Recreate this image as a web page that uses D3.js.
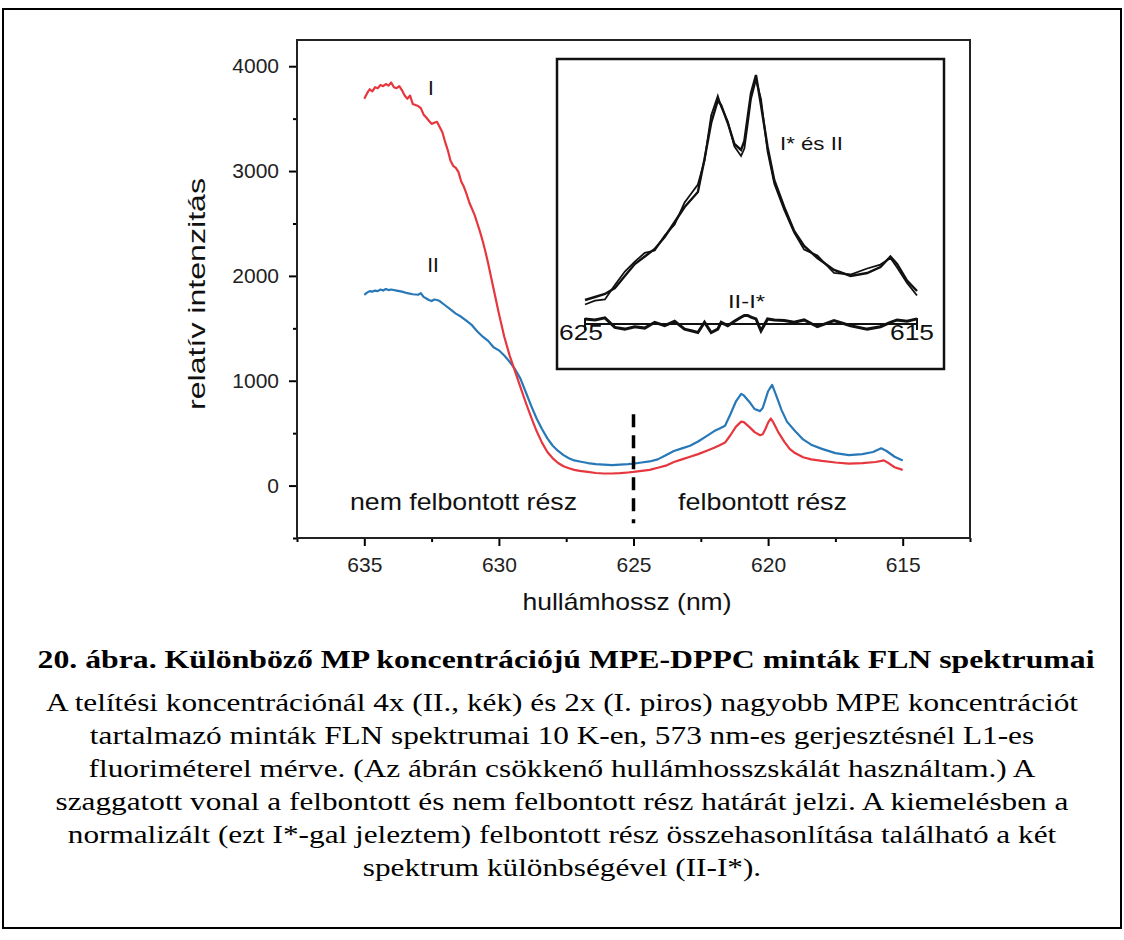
<!DOCTYPE html>
<html><head><meta charset="utf-8">
<script src="https://cdn.jsdelivr.net/npm/d3@7"></script>
<style>body{margin:0;background:#fff}svg{display:block}</style>
</head><body>
<svg id="c" width="1124" height="940"></svg>
<script>
// ---------- data ----------
const wavelengthsI = [635.0,634.9,634.8,634.7,634.6,634.5,634.4,634.3,634.2,634.1,634.0,633.9,633.8,633.7,633.6,633.5,633.4,633.3,633.2,633.0,632.9,632.8,632.7,632.6,632.5,632.4,632.3,632.2,632.1,632.0,631.9,631.8,631.7,631.6,631.5,631.4,631.3,631.2,631.1,631.0,630.9,630.8,630.7,630.6,630.5,630.4,630.3,630.2,630.1,630.0,629.8,629.6,629.4,629.2,629.0,628.8,628.6,628.4,628.2,628.0,627.8,627.6,627.4,627.2,627.0,626.7,626.4,626.1,625.8,625.5,625.2,625.0,624.7,624.4,624.1,623.8,623.5,623.2,622.9,622.6,622.3,622.0,621.8,621.6,621.4,621.2,621.0,620.9,620.7,620.5,620.3,620.2,620.1,620.0,619.9,619.8,619.6,619.4,619.2,619.0,618.7,618.4,618.0,617.5,617.0,616.5,616.0,615.7,615.5,615.3,615.0];
const intensityI = [3690,3740,3780,3760,3800,3790,3820,3810,3830,3815,3845,3800,3790,3810,3770,3720,3690,3720,3640,3620,3600,3540,3510,3480,3450,3460,3470,3420,3370,3280,3200,3100,3050,3030,2990,2900,2850,2780,2700,2640,2580,2500,2420,2330,2230,2120,2000,1880,1760,1640,1420,1240,1090,940,790,650,520,410,320,260,215,185,165,150,140,130,120,115,115,118,125,130,140,150,170,190,225,250,275,300,330,360,385,410,480,560,610,605,560,510,480,490,540,600,640,600,500,420,350,310,270,250,235,220,210,215,225,240,210,175,150];

const wavelengthsII = [635.0,634.9,634.8,634.7,634.6,634.5,634.4,634.3,634.2,634.1,634.0,633.8,633.6,633.4,633.2,633.0,632.9,632.8,632.6,632.5,632.4,632.3,632.2,632.0,631.8,631.6,631.4,631.2,631.0,630.8,630.6,630.4,630.2,630.0,629.8,629.6,629.4,629.2,629.0,628.8,628.6,628.4,628.2,628.0,627.8,627.6,627.4,627.2,627.0,626.7,626.4,626.1,625.8,625.5,625.2,625.0,624.7,624.4,624.1,623.8,623.5,623.2,622.9,622.6,622.3,622.0,621.8,621.6,621.4,621.2,621.0,620.9,620.7,620.5,620.3,620.2,620.1,620.0,619.85,619.7,619.5,619.3,619.0,618.7,618.4,618.0,617.5,617.0,616.5,616.1,615.8,615.6,615.3,615.0];
const intensityII = [1820,1840,1855,1850,1860,1855,1870,1860,1875,1865,1870,1860,1850,1835,1825,1820,1835,1800,1770,1760,1775,1770,1760,1720,1680,1640,1610,1570,1530,1470,1420,1380,1320,1290,1240,1180,1110,1020,890,760,640,540,450,380,330,290,260,240,230,215,205,200,195,200,205,210,220,230,250,290,330,355,380,420,470,520,545,570,680,800,875,860,800,730,710,740,820,900,960,860,720,610,520,440,390,350,310,290,300,320,355,330,275,240];

// inset: normalised spectrum I* on the resolved part (same wavelengths as II between 625 and 615 nm)
const insetRange = [625, 615];
const insetIStar = [195,208,212,260,305,338,367,375,425,462,535,565,595,675,825,890,855,805,722,690,715,795,880,945,880,705,598,510,435,378,358,300,295,315,328,350,318,267,225];

const yTicks = [0,1000,2000,3000,4000];
const yMinorTicks = [-500,500,1500,2500,3500];
const xTicks = [635,630,625,620,615];
const xMinorTicks = [637.5,632.5,627.5,622.5,617.5,612.5];
const boundary = 625;

const captionTitle = "20. ábra. Különböző MP koncentrációjú MPE-DPPC minták FLN spektrumai";
const captionLines = [
  "A telítési koncentrációnál 4x (II., kék) és 2x (I. piros) nagyobb MPE koncentrációt",
  "tartalmazó minták FLN spektrumai 10 K-en, 573 nm-es gerjesztésnél L1-es",
  "fluoriméterel mérve. (Az ábrán csökkenő hullámhosszskálát használtam.) A",
  "szaggatott vonal a felbontott és nem felbontott rész határát jelzi. A kiemelésben a",
  "normalizált (ezt I*-gal jeleztem) felbontott rész összehasonlítása található a két",
  "spektrum különbségével (II-I*)."
];

// ---------- drawing ----------
const svg = d3.select("#c");
const SANS = "'Liberation Sans', Arial, Helvetica, sans-serif";
const SERIF = "'Liberation Serif', 'Times New Roman', Times, serif";
const RED = "#e6363e", BLUE = "#2878b8";

svg.append("rect").attr("x",3).attr("y",9).attr("width",1118).attr("height",919)
  .attr("fill","none").attr("stroke","#000").attr("stroke-width",2);

const P = {l:297, r:970, t:40, b:538};
const x = d3.scaleLinear().domain([637.5, 612.5]).range([P.l, P.r]);
const y = d3.scaleLinear().domain([-500, 4250]).range([P.b, P.t]);

const g = svg.append("g");
const axL = g.append("g").attr("transform",`translate(${P.l},0)`)
  .call(d3.axisLeft(y).tickValues(yTicks).tickSize(8).tickPadding(10).tickFormat(d3.format("d")));
const axLm = g.append("g").attr("transform",`translate(${P.l},0)`)
  .call(d3.axisLeft(y).tickValues(yMinorTicks).tickSize(4).tickFormat(""));
const axB = g.append("g").attr("transform",`translate(0,${P.b})`)
  .call(d3.axisBottom(x).tickValues(xTicks).tickSize(8).tickPadding(11).tickFormat(d3.format("d")));
const axBm = g.append("g").attr("transform",`translate(0,${P.b})`)
  .call(d3.axisBottom(x).tickValues(xMinorTicks).tickSize(4).tickFormat(""));
[axL,axLm,axB,axBm].forEach(a=>{
  a.select(".domain").remove();
  a.selectAll(".tick line").attr("stroke","#000").attr("stroke-width",2);
  a.selectAll("text").attr("font-family",SANS).attr("font-size",21).attr("fill","#222");
});
g.append("rect").attr("x",P.l).attr("y",P.t).attr("width",P.r-P.l).attr("height",P.b-P.t)
  .attr("fill","none").attr("stroke","#222").attr("stroke-width",2);

const line = d3.line().x(d=>x(d[0])).y(d=>y(d[1]));
g.append("path").datum(d3.zip(wavelengthsII,intensityII)).attr("d",line)
  .attr("fill","none").attr("stroke",BLUE).attr("stroke-width",2.2).attr("stroke-linejoin","round");
g.append("path").datum(d3.zip(wavelengthsI,intensityI)).attr("d",line)
  .attr("fill","none").attr("stroke",RED).attr("stroke-width",2.2).attr("stroke-linejoin","round");

g.append("line").attr("x1",x(boundary)).attr("x2",x(boundary)).attr("y1",y(680)).attr("y2",y(-360))
  .attr("stroke","#000").attr("stroke-width",3.5).attr("stroke-dasharray","13,8");

const txt = (s, xx, yy, size, opts={}) => {
  const t = svg.append("text").attr("x",xx).attr("y",yy).text(s)
    .attr("font-family",opts.family||SANS).attr("font-size",size).attr("fill",opts.fill||"#111")
    .attr("text-anchor",opts.anchor||"start");
  if (opts.weight) t.attr("font-weight",opts.weight);
  if (opts.len) t.attr("textLength",opts.len).attr("lengthAdjust","spacingAndGlyphs");
  return t;
};
txt("I", 431, 95, 21, {anchor:"middle"});
txt("II", 433, 272, 21, {anchor:"middle"});
txt("nem felbontott rész", 350, 510, 24, {len:227});
txt("felbontott rész", 678, 510, 24, {len:169});
txt("hullámhossz (nm)", 627, 610, 24, {anchor:"middle", len:209});
txt("relatív intenzitás", 0, 0, 24, {anchor:"middle", len:232})
  .attr("transform","translate(205,294) rotate(-90)");

// ---------- inset ----------
const I = {l:557, r:944, t:59, b:369};
svg.append("rect").attr("x",I.l).attr("y",I.t).attr("width",I.r-I.l).attr("height",I.b-I.t)
  .attr("fill","#fff").attr("stroke","#111").attr("stroke-width",2.5);
const ix = d3.scaleLinear().domain(insetRange).range([585, 917]);
const iy = d3.scaleLinear().domain([0, 1000]).range([363, 63]);
const idy = d3.scaleLinear().domain([0, 100]).range([324, 290]);

const insetII = d3.zip(wavelengthsII, intensityII).filter(d => d[0] <= insetRange[0] && d[0] >= insetRange[1]);
const insetI = insetII.map((d,i) => [d[0], insetIStar[i]]);
const insetDiff = insetII.map((d,i) => [d[0], d[1] - insetIStar[i]]);

const iline = d3.line().x(d=>ix(d[0])).y(d=>iy(d[1]));
svg.append("path").datum(insetI).attr("d",iline).attr("fill","none").attr("stroke","#111").attr("stroke-width",1.8);
svg.append("path").datum(insetII).attr("d",iline).attr("fill","none").attr("stroke","#111").attr("stroke-width",2.4);

const zy = idy(0);
svg.append("line").attr("x1",ix(insetRange[0])).attr("x2",ix(insetRange[1])).attr("y1",zy).attr("y2",zy)
  .attr("stroke","#111").attr("stroke-width",2);
insetRange.forEach(v => svg.append("line").attr("x1",ix(v)).attr("x2",ix(v)).attr("y1",zy-6).attr("y2",zy+6)
  .attr("stroke","#111").attr("stroke-width",2));
const dline = d3.line().x(d=>ix(d[0])).y(d=>idy(d[1]));
svg.append("path").datum(insetDiff).attr("d",dline).attr("fill","none").attr("stroke","#111").attr("stroke-width",3);

txt(String(insetRange[0]), ix(insetRange[0])-4, 340, 22, {anchor:"middle", len:44});
txt(String(insetRange[1]), ix(insetRange[1])-5, 340, 22, {anchor:"middle", len:44});
txt("I* és II", 780, 150, 19, {len:63});
txt("II-I*", 728, 308, 19, {len:37});

// ---------- caption ----------
txt(captionTitle, 566, 668, 25, {anchor:"middle", family:SERIF, weight:"bold", fill:"#000", len:1057});
const capNodes = captionLines.map((s,i) => txt(s, 562, 711 + i*33, 25, {anchor:"middle", family:SERIF, fill:"#000"}));
const k = 1032 / capNodes[0].node().getComputedTextLength();
capNodes.forEach(t => {
  const w = t.node().getComputedTextLength();
  t.attr("textLength", w*k).attr("lengthAdjust","spacingAndGlyphs");
});
</script>
</body></html>
